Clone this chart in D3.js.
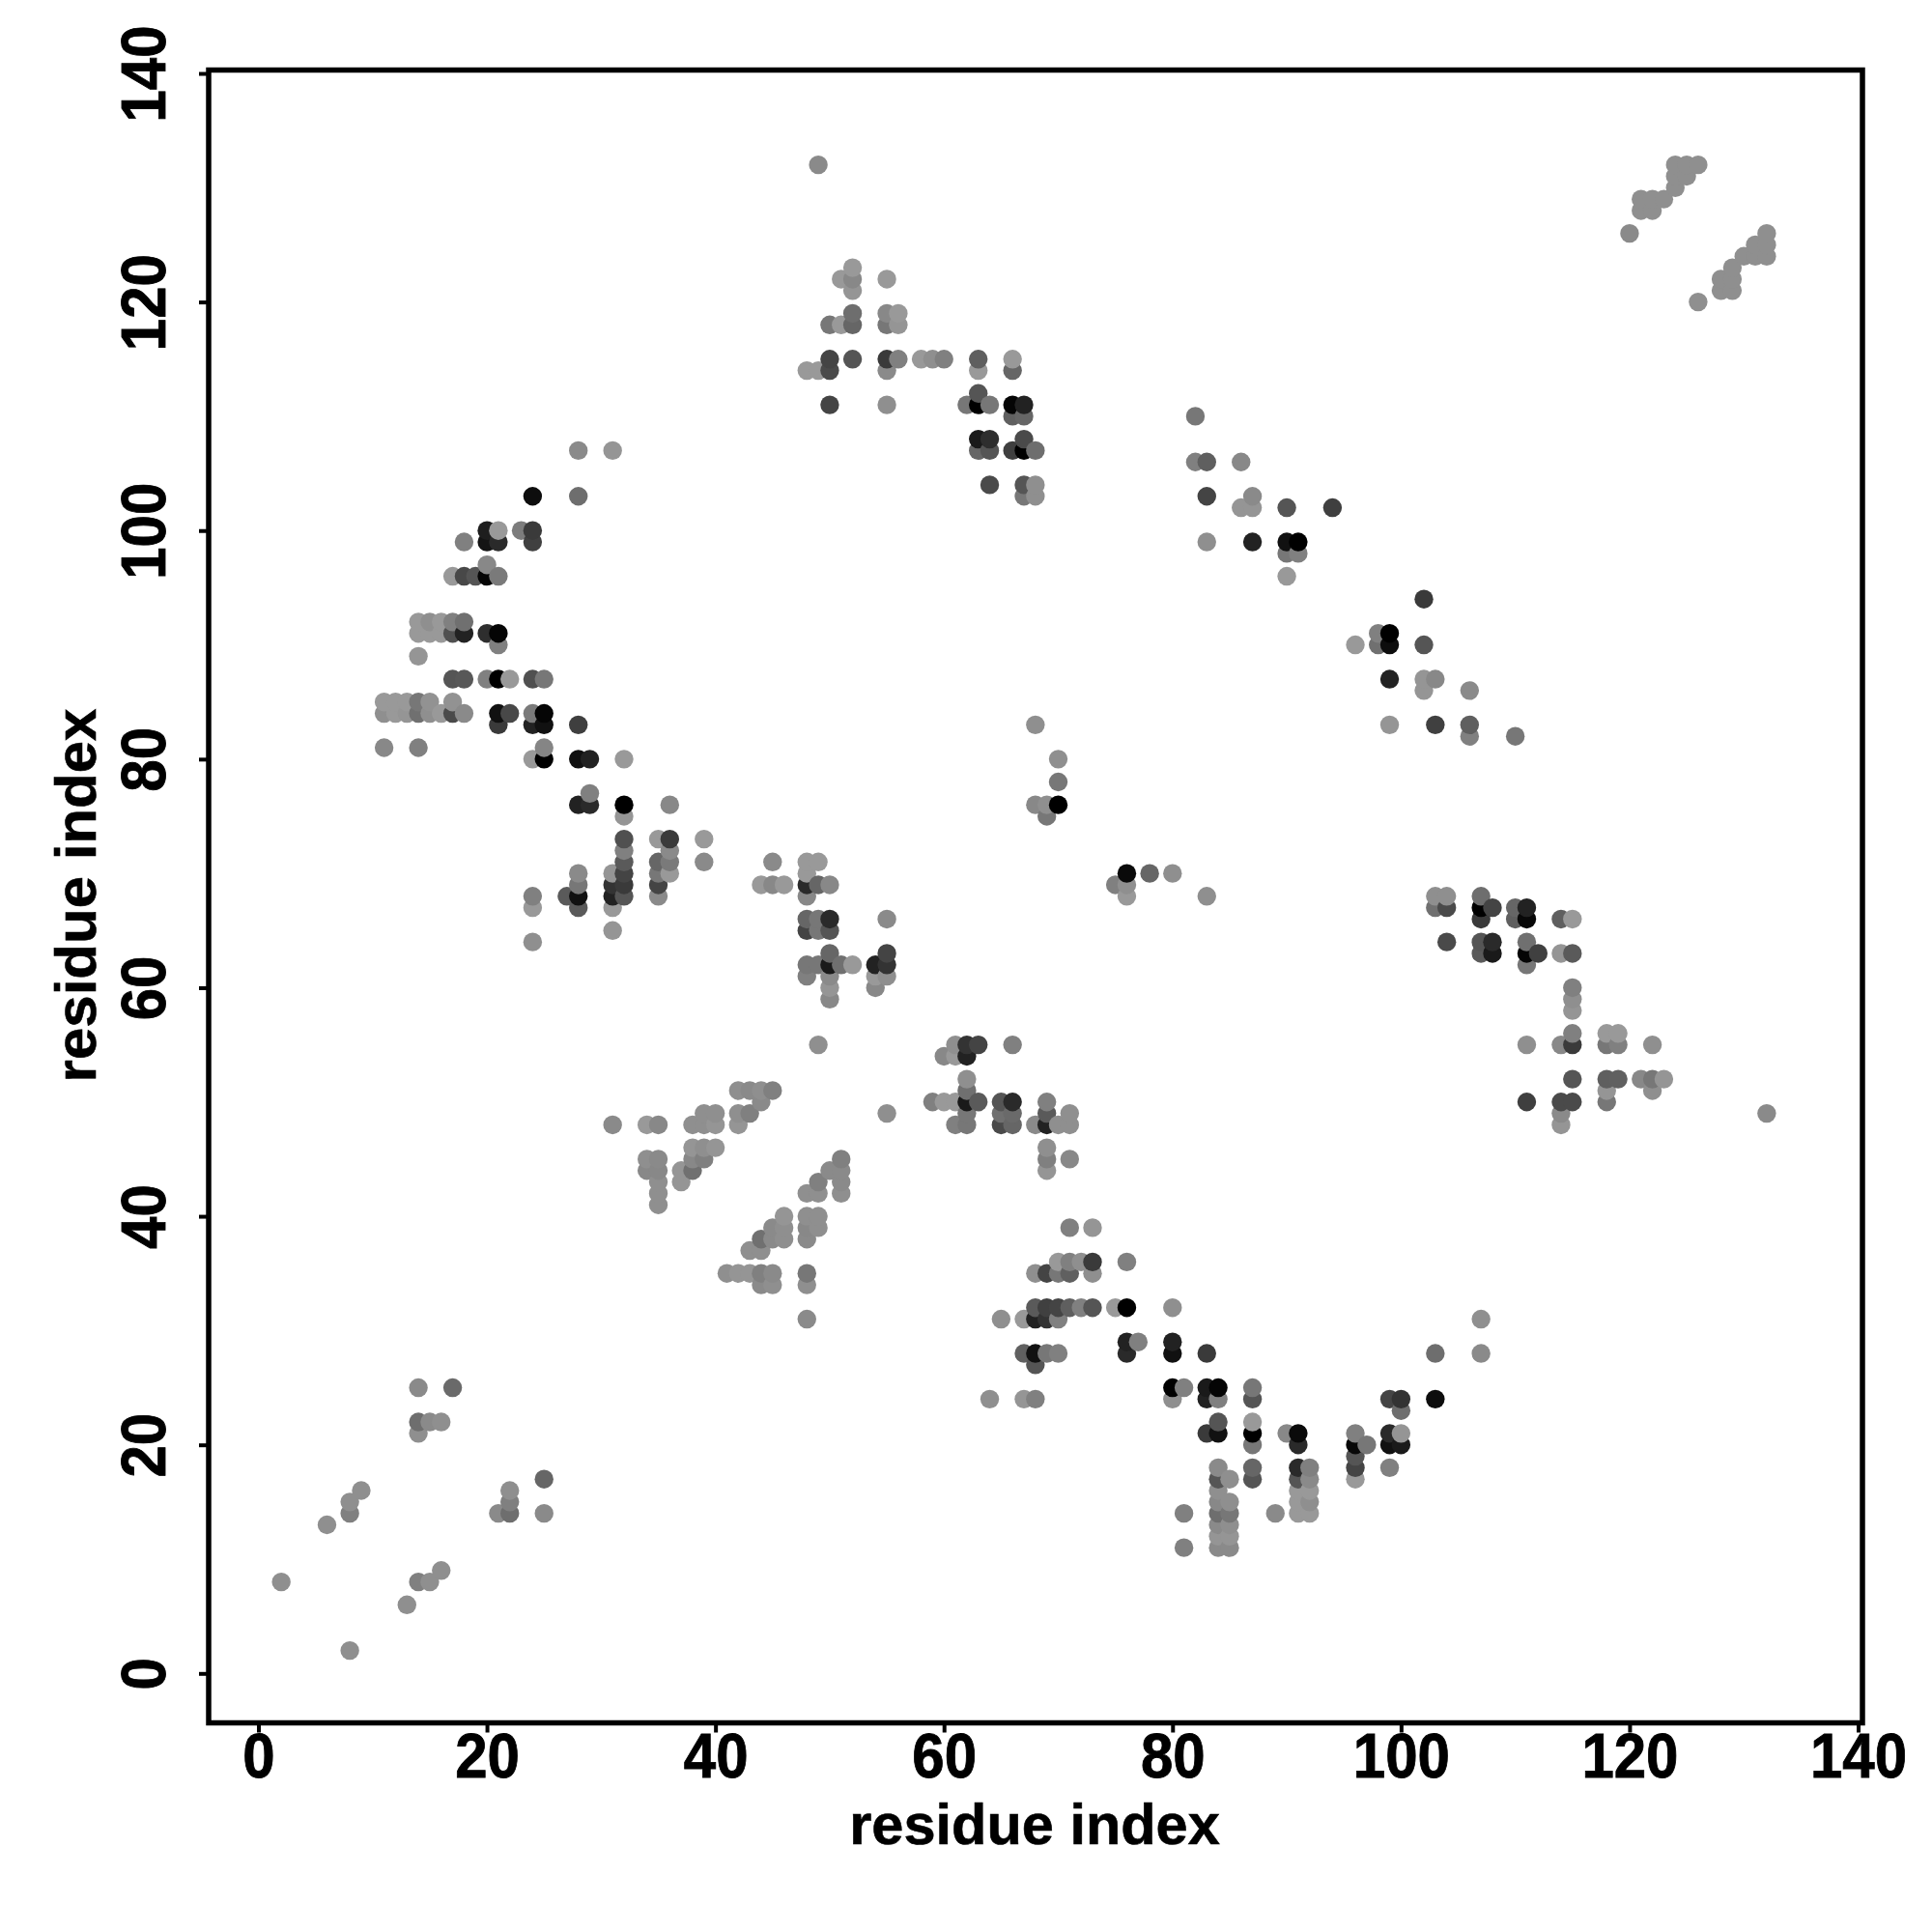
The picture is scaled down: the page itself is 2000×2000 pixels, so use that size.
<!DOCTYPE html>
<html>
<head>
<meta charset="utf-8">
<script src="https://cdnjs.cloudflare.com/ajax/libs/d3/7.8.5/d3.min.js"></script>
<style>html,body{margin:0;padding:0;background:#fff}svg{display:block}</style>
</head>
<body>
<div id="chart"></div>
<script>
const xTickValues=[0,20,40,60,80,100,120,140];
const yTickValues=[0,20,40,60,80,100,120,140];
const xTitle="residue index";
const yTitle="residue index";
const rowY=[132,131,130,129,128,126,125,124,123,122,121,120,119,118,115,114,112,111,110,108,107,106,104,103,102,100,99,98,97,96,94,92,91,90,89,87,86,85,84,83,82,81,80,78,77,76,75,73,72,71,70,69,68,67,66,65,64,63,62,61,60,59,58,56,55,54,52,51,50,49,48,46,45,44,43,42,41,40,39,38,37,36,35,34,32,31,29,28,27,25,24,23,22,21,20,19,18,17,16,15,14,13,12,11,9,8,6,2];
const rowX=[
[49,124,125,126],[124,125],[124],[121,122,123],[121,122],[120,132],[131,132],[130,131,132],[52,129],
[51,52,55,128,129],[52,128,129],[126],[52,55,56],[50,51,52,55,56],[50,52,55,56,58,59,60,63,66],[48,49,50,55,63,66],[63],
[50,55,62,63,64,66,67],[66,67,82],[63,64,67],[28,31,63,64,66,67,68],[82,83,86],[64,67,68],[24,28,67,68,83,87],[86,87,90,94],
[20,21,23,24],[18,20,21,24,83,87,90,91],[90,91],[20],[17,18,19,20,21,90],[102],[14,15,16,17,18],
[14,15,16,17,18,20,21,98,99],[21,96,98,99,102],[14],[17,18,20,21,22,24,25,99,102,103],[102,106],[11,12,13,14,15,17],
[11,12,13,14,15,16,17,18,21,22,24,25],[21,24,25,28,68,99,103,106],[106,110],[11,14,25],[24,25,28,29,32,70],[70],[29],
[28,29,32,36,68,69,70],[32,69],[32,35,36,39],[32,36],[32,35,36,39,45,48,49],[28,31,32,35,36,48,76,78,80],
[28,31,32,35,44,45,46,48,49,50,75,76],[24,27,28,31,32,35,48,76,83,103,104,107],[24,28,31,103,104,107,108,110,111],
[48,49,50,55,107,110,111,114,115],[31,48,49,50],[24,104,107,108,111],[50,55,107,108,111,112,114,115],
[48,49,50,51,52,54,55,111],[48,50,54,55],[50,54,115],[50,115],[115],[115,118,119],
[49,61,62,63,66,111,114,115,118,119,122],[60,61,62],[62,115,118,119,121,122,123],[42,43,44,45,62,118,122],
[44,59,60,61,62,63,65,66,69,111,114,115,118],[39,40,42,43,55,62,65,66,69,71,114,132],
[31,34,35,38,39,40,42,61,62,65,66,68,69,70,71,114],[38,39,40,69],[34,35,38,39,51,69,71],[34,35,37,38,50,51,69],
[35,37,49,51],[35,48,49,51],[35],[46,48,49],[45,46,48,49,71,73],[44,45,46,48],[43,44],[70,71,72,73,76],
[41,42,43,44,45,48,68,69,70,71,73],[44,45,48],[68,69,70,71,72,73,75,76,80],[48,65,67,68,69,70,107],[76,77,80],
[67,68,69,70,76,80,83,103,107],[68],[14,17,80,81,83,84,87],[64,67,68,80,83,84,87,99,100,103],[100],[14,15,16,84,87],
[14,83,84,87,90,91,96,99,100],[87,91,96,97,99,100],[96],[84,87,91,92,96,99],[25,84,85,87,91,92,96],[9,22,84,91,92],
[8,22,84,85,91,92],[8,21,22,25,81,84,85,89,91,92],[6,84,85],[84,85],[81,84,85],[16],[2,14,15],[13],[8]
];
const rowGray=[
[0x8a,0x8f,0x8f,0x8f],[0x8f,0x8f],[0x8f],[0x8f,0x8f,0x8f],[0x8f,0x8f],[0x8a,0x8f],[0x8f,0x8f],[0x8f,0x8f,0x8f],[0x99,0x8f],
[0x99,0x88,0x99,0x8f,0x8f],[0x95,0x8f,0x8f],[0x8f],[0x6e,0x88,0x99],[0x77,0x99,0x66,0x77,0x95],[0x44,0x55,0x3a,0x80,0x99,0x8f,0x80,0x5f,0x99],[0x99,0x99,0x4a,0x8a,0x99,0x66],[0x55],
[0x44,0x8f,0x77,0x00,0x77,0x05,0x22],[0x60,0x66,0x77],[0x1a,0x2e,0x4a],[0x8a,0x95,0x66,0x55,0x3f,0x00,0x6e],[0x80,0x5f,0x88],[0x4a,0x55,0x8f],[0x0d,0x6e,0x77,0x8f,0x44,0x8a],[0x95,0x95,0x55,0x3f],
[0x1e,0x99,0x7c,0x3a],[0x80,0x14,0x2a,0x40,0x8f,0x22,0x11,0x00],[0x77,0x80],[0x88],[0x99,0x48,0x55,0x06,0x7a,0x99],[0x3a],[0x99,0x8f,0x99,0x80,0x70],
[0x99,0x99,0x99,0x50,0x22,0x2e,0x05,0x80,0x00],[0x80,0x99,0x70,0x0d,0x55],[0x95],[0x55,0x58,0x80,0x00,0x99,0x50,0x77,0x22,0x95,0x88],[0x95,0x8a],[0x99,0x99,0x99,0x77,0x92,0x92],
[0x8f,0x99,0x95,0x70,0x8f,0x99,0x4a,0x8a,0x11,0x48,0x7a,0x05],[0x3a,0x22,0x11,0x3f,0x8f,0x95,0x40,0x5f],[0x80,0x77],[0x88,0x80,0x85],[0x99,0x00,0x11,0x22,0x99,0x8f],[0x77],[0x80],
[0x22,0x2a,0x00,0x88,0x88,0x8f,0x00],[0x95,0x77],[0x50,0x99,0x3a,0x99],[0x80,0x8a],[0x5a,0x66,0x7a,0x8a,0x8a,0x99,0x99],[0x8a,0x95,0x44,0x77,0x99,0x99,0x0a,0x66,0x8f],
[0x77,0x33,0x3a,0x44,0x99,0x88,0x99,0x2a,0x66,0x88,0x80,0x8f],[0x80,0x5a,0x11,0x22,0x55,0x8a,0x88,0x99,0x8f,0x8f,0x8f,0x6e],[0x99,0x5a,0x99,0x70,0x4a,0x00,0x44,0x66,0x22],
[0x66,0x77,0x2a,0x8a,0x3a,0x5f,0x08,0x5f,0x99],[0x95,0x44,0x77,0x55],[0x8f,0x4a,0x55,0x2a,0x70],[0x66,0x44,0x5a,0x1a,0x05,0x40,0x95,0x5a],
[0x77,0x77,0x1a,0x70,0x99,0x22,0x33,0x77],[0x80,0x8a,0x99,0x8f],[0x95,0x88,0x80],[0x88,0x8f],[0x95],[0x80,0x99,0x99],
[0x8f,0x8f,0x33,0x44,0x80,0x8f,0x88,0x3a,0x77,0x80,0x8f],[0x88,0x99,0x22],[0x8f,0x55,0x5f,0x60,0x88,0x77,0x95],[0x8f,0x8a,0x8f,0x80,0x70,0x95,0x8f],
[0x8a,0x80,0x99,0x99,0x1a,0x5a,0x55,0x2a,0x80,0x3f,0x4a,0x4a,0x77],[0x8f,0x8f,0x8f,0x80,0x8f,0x77,0x70,0x6a,0x5a,0x8f,0x8a,0x8a],
[0x8a,0x99,0x88,0x8f,0x8f,0x95,0x95,0x80,0x77,0x4a,0x66,0x8a,0x22,0x8f,0x8f,0x95],[0x95,0x8f,0x95,0x8f],[0x8f,0x8a,0x88,0x80,0x80,0x80,0x88],[0x88,0x88,0x95,0x70,0x8a,0x8a,0x95],
[0x8f,0x95,0x80,0x8a],[0x8f,0x8f,0x8f,0x8f],[0x8f],[0x95,0x8f,0x8f],[0x8a,0x8f,0x88,0x8f,0x80,0x95],[0x70,0x8a,0x8f,0x8a],[0x8f,0x8f],[0x99,0x80,0x8f,0x3a,0x80],
[0x8f,0x95,0x95,0x80,0x8a,0x77,0x8f,0x44,0x77,0x60,0x8f],[0x8a,0x8f,0x8f],[0x5a,0x40,0x44,0x5f,0x80,0x55,0x99,0x00,0x8f],[0x8a,0x8f,0x99,0x22,0x33,0x80,0x8f],[0x22,0x80,0x22],
[0x60,0x11,0x77,0x80,0x2a,0x11,0x3a,0x6e,0x8a],[0x55],[0x8a,0x6a,0x00,0x80,0x1a,0x05,0x77],[0x8f,0x95,0x80,0x8f,0x22,0x80,0x55,0x44,0x33,0x0d],[0x6e],[0x6e,0x8a,0x8f,0x55,0x99],
[0x8f,0x3a,0x11,0x00,0x88,0x0a,0x80,0x2a,0x95],[0x77,0x2a,0x08,0x77,0x11,0x1a],[0x55],[0x8a,0x66,0x2a,0x80,0x44,0x80],[0x66,0x55,0x8f,0x55,0x55,0x8a,0x99],[0x8f,0x8f,0x8f,0x99,0x99],
[0x8f,0x80,0x88,0x8f,0x99,0x8f],[0x80,0x8a,0x6e,0x8a,0x80,0x6e,0x77,0x8a,0x99,0x99],[0x8f,0x8a,0x8f],[0x95,0x95],[0x80,0x8a,0x8a],[0x8f],[0x8f,0x80,0x8f],[0x8f],[0x8f]
];

const points=rowY.flatMap((y,r)=>rowX[r].map((x,c)=>({x,y,gray:rowGray[r][c]})))
  .sort((a,b)=>d3.ascending(a.x,b.x)||d3.ascending(a.y,b.y));

const W=2000,H=2000;
const frame={left:216,right:1928,top:72.5,bottom:1783.5};
const x=d3.scaleLinear().domain([0,140]).range([267.5,1923.5]);
const y=d3.scaleLinear().domain([0,140]).range([1732.3,76]);
const svg=d3.select("#chart").append("svg").attr("width",W).attr("height",H).style("font-family","'Liberation Sans',Arial,sans-serif");
svg.append("rect").attr("width",W).attr("height",H).attr("fill","#fff");

svg.append("g").selectAll("circle").data(points).join("circle")
  .attr("cx",d=>x(d.x)).attr("cy",d=>y(d.y)).attr("r",9.7)
  .attr("fill",d=>d3.rgb(d.gray,d.gray,d.gray).formatHex());

svg.append("rect").attr("x",frame.left).attr("y",frame.top)
  .attr("width",frame.right-frame.left).attr("height",frame.bottom-frame.top)
  .attr("fill","none").attr("stroke","#000").attr("stroke-width",5.5);

const gx=svg.append("g").attr("transform",`translate(0,${frame.bottom})`)
  .call(d3.axisBottom(x).tickValues(xTickValues).tickSize(10).tickPadding(0).tickFormat(d3.format("d")));
const gy=svg.append("g").attr("transform",`translate(${frame.left},0)`)
  .call(d3.axisLeft(y).tickValues(yTickValues).tickSize(10).tickPadding(0).tickFormat(d3.format("d")));
[gx,gy].forEach(g=>{
  g.select(".domain").remove();
  g.selectAll(".tick line").attr("stroke","#000").attr("stroke-width",4);
  g.selectAll(".tick text").attr("fill","#000").attr("stroke","#000").attr("stroke-width",0.8)
    .attr("font-size",60).attr("font-weight",700).attr("font-family","'Liberation Sans',Arial,sans-serif");
});
gx.selectAll(".tick text").attr("y",0).attr("dy",0).attr("transform","translate(0,56.5) scale(1,1.08)");
gy.selectAll(".tick text").attr("x",0).attr("dy",0).attr("text-anchor","middle")
  .attr("transform","translate(-45,0) rotate(-90) scale(1,1.08)");

svg.append("text").attr("x",1071).attr("y",1909).attr("text-anchor","middle")
  .attr("font-size",59.5).attr("font-weight",700).attr("fill","#000").attr("stroke","#000").attr("stroke-width",0.6).text(xTitle);
svg.append("text").attr("transform","translate(99,927) rotate(-90)").attr("text-anchor","middle")
  .attr("font-size",60).attr("font-weight",700).attr("fill","#000").attr("stroke","#000").attr("stroke-width",0.6).text(yTitle);
</script>
</body>
</html>
